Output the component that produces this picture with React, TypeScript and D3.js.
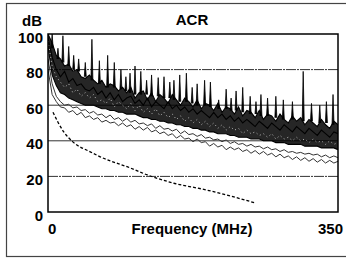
import React from 'react';
import * as d3 from 'd3';

// frequency samples (MHz) for the measured pairs
const freq = [
  0, 5, 10, 15, 20, 25, 30, 35, 40, 45, 50, 55, 60, 65, 70, 75, 80, 85, 90, 95,
  100, 105, 110, 115, 120, 125, 130, 135, 140, 145, 150, 155, 160, 165, 170, 175,
  180, 185, 190, 195, 200, 205, 210, 215, 220, 225, 230, 235, 240, 245, 250, 255,
  260, 265, 270, 275, 280, 285, 290, 295, 300, 305, 310, 315, 320, 325, 330, 335,
  340, 345, 350,
];

const pairA = [
  100, 95, 88, 86, 82, 83, 79, 80, 76, 75,
  77, 74, 72, 74, 70, 72, 71, 68, 70, 67,
  70, 64, 67, 68, 63, 67, 62, 66, 64, 61,
  66, 63, 60, 64, 62, 59, 63, 58, 61, 60,
  57, 61, 56, 59, 58, 55, 59, 54, 57, 56,
  53, 57, 52, 55, 54, 51, 55, 52, 50, 54,
  51, 53, 49, 52, 50, 48, 52, 49, 47, 51, 49,
];
const pairF = [
  98, 87, 80, 76, 79, 73, 75, 71, 72, 69,
  68, 70, 66, 68, 64, 67, 63, 66, 62, 64,
  65, 61, 63, 60, 64, 59, 62, 60, 58, 62,
  58, 60, 57, 59, 56, 58, 55, 57, 55, 53,
  56, 53, 55, 52, 54, 51, 53, 50, 52, 50,
  48, 51, 49, 47, 50, 48, 46, 49, 47, 45,
  48, 46, 44, 47, 45, 43, 46, 44, 42, 45, 44,
];
const pairB = [
  96, 82, 76, 73, 70, 72, 67, 69, 65, 67,
  64, 66, 62, 63, 61, 64, 59, 62, 60, 58,
  61, 57, 60, 56, 58, 55, 58, 54, 56, 53,
  55, 52, 54, 51, 53, 50, 52, 49, 51, 48,
  50, 47, 49, 46, 48, 46, 47, 44, 46, 44,
  45, 43, 44, 42, 44, 41, 43, 41, 42, 40,
  42, 40, 41, 39, 41, 39, 40, 38, 40, 38, 39,
];
const pairC = [
  93, 77, 71, 67, 66, 64, 63, 62, 61, 60,
  60, 60, 59, 58, 58, 57, 57, 56, 56, 55,
  55, 55, 54, 53, 53, 52, 52, 51, 51, 50,
  50, 49, 49, 48, 48, 47, 47, 46, 46, 45,
  45, 44, 44, 44, 43, 43, 42, 42, 42, 41,
  41, 41, 40, 40, 40, 39, 39, 39, 38, 38,
  38, 38, 37, 37, 37, 37, 36, 36, 36, 36, 35,
];
const pairD = [
  80, 66, 62, 59, 58.5, 56, 57, 54.5, 56, 53,
  54, 52, 53, 50.5, 51.5, 50, 50.5, 48.5, 50, 48,
  49, 46.5, 48, 46, 47.5, 45, 46, 44, 45, 43,
  44, 41.5, 43, 41, 41.5, 39.5, 41, 39, 39.5, 37,
  38.5, 36.5, 37.5, 35, 36.5, 35, 36, 34, 35, 33,
  34.5, 32.5, 34, 32, 33, 31, 32.5, 30.5, 31.5, 29.5,
  31, 29, 30.5, 28.5, 30, 28, 29.5, 27.5, 29, 27.5, 28.5,
];
const pairE = [
  86, 72, 65, 62, 60, 60.5, 58.5, 59, 57, 57.5,
  55.5, 56.5, 54.5, 55, 53, 54.5, 52, 53, 51, 52.5,
  50.5, 51.5, 49.5, 50, 48.5, 49.5, 47, 48.5, 46.5, 47,
  45.5, 46.5, 44, 45.5, 43.5, 44, 42.5, 43.5, 41.5, 42,
  40.5, 41, 39.5, 40.5, 38.5, 39.5, 38, 38.5, 37, 38,
  36.5, 37, 35.5, 36.5, 35, 35.5, 34, 35, 33.5, 34,
  33, 33.5, 32.5, 33, 32, 32.5, 31, 32, 30.5, 31.5, 30.5,
];

// narrow resonance peaks
const spikeFreq = [5, 12, 18, 25, 31, 37, 45, 53, 62, 72, 80, 88, 94, 99, 105, 112, 119, 125, 133, 140, 147, 152, 159, 167, 174, 180, 189, 196, 206, 215, 221, 227, 235, 244, 251, 257, 265, 275, 284, 295, 308, 318, 328, 336, 344];
const spikePeak = [100, 92, 99, 93, 88, 86, 84, 97, 85, 88, 84, 80, 76, 78, 82, 79, 74, 77, 75.5, 76, 73, 74, 77, 78, 70, 72, 74, 73, 63, 69, 64, 68, 70, 65, 62, 66, 64, 65, 63, 62, 79, 61, 60, 62, 66];
const spikeBase = [92, 86, 84, 82, 80, 79, 76, 74, 72, 70, 70, 69, 68, 67, 66, 66, 66, 65, 65, 64, 64, 63, 62, 62, 61, 60, 60, 59, 58, 58, 57, 57, 56, 55, 55, 54, 54, 53, 52, 52, 51, 51, 50, 50, 49];

// ACR limit
const limitFreq = [6, 19, 30, 51, 63, 99, 120, 151, 191, 251];
const limitDb = [56, 45, 39.4, 33.8, 31, 24.8, 20.8, 16.3, 12.4, 5];

const yTicks = [0, 20, 40, 60, 80, 100];
const gridTicks = [20, 40, 60, 80];

const W = 346;
const H = 259;
const plot = { left: 48, right: 338, top: 34, bottom: 212 };

const font = '"Liberation Sans", Arial, sans-serif';

export default function App() {
  const x = d3.scaleLinear().domain([0, 350]).range([plot.left, plot.right]);
  const y = d3.scaleLinear().domain([0, 100]).range([plot.bottom, plot.top]);

  const line = d3
    .line<[number, number]>()
    .x((d) => x(d[0]))
    .y((d) => y(d[1]));

  const toPath = (vals: number[]) =>
    line(freq.map((f, i) => [f, vals[i]] as [number, number])) || '';

  const band = d3
    .area<number>()
    .x((d) => x(d))
    .y0((_, i) => y(pairC[i]))
    .y1((_, i) => y(pairA[i]));

  const spikes = spikeFreq.map(
    (f, i) =>
      line([
        [f - 1.2, spikeBase[i]],
        [f, spikePeak[i]],
        [f + 1.2, spikeBase[i]],
      ]) || ''
  );

  const limitLine = d3
    .line<number>()
    .x((d) => x(d))
    .y((_, i) => y(limitDb[i]))
    .curve(d3.curveMonotoneX);

  return (
    <svg
      width={W}
      height={H}
      style={{ position: 'absolute', left: 0, top: 0, background: '#fff' }}
    >
      {/* outer frame */}
      <rect x={6.5} y={3.5} width={345} height={253} fill="none" stroke="#444" strokeWidth={1.2} />

      <defs>
        <clipPath id="plotClip">
          <rect x={plot.left} y={plot.top} width={plot.right - plot.left} height={plot.bottom - plot.top} />
        </clipPath>
      </defs>

      {/* grid */}
      {gridTicks.map((t) => (
        <line
          key={t}
          x1={plot.left}
          x2={plot.right}
          y1={y(t)}
          y2={y(t)}
          stroke="#333"
          strokeWidth={1}
          strokeDasharray={t === 80 || t === 20 ? '10,1,2,1' : undefined}
        />
      ))}

      <g clipPath="url(#plotClip)">
        {[pairE, pairD].map((vals, i) => (
          <path key={'l' + i} d={toPath(vals)} fill="none" stroke="#333" strokeWidth={1} />
        ))}
        <path d={band(freq) || ''} fill="#000" fillOpacity={0.85} stroke="none" />
        {[pairA, pairF, pairC].map((vals, i) => (
          <path key={'s' + i} d={toPath(vals)} fill="none" stroke="#000" strokeWidth={1.1} />
        ))}
        <path d={toPath(pairB)} fill="none" stroke="#fff" strokeWidth={0.7} strokeDasharray="1,3" />
        {spikes.map((d, i) => (
          <path key={'p' + i} d={d} fill="#000" stroke="#000" strokeWidth={0.8} />
        ))}
        <path
          d={limitLine(limitFreq) || ''}
          fill="none"
          stroke="#000"
          strokeWidth={1.3}
          strokeDasharray="3,2"
        />
      </g>

      {/* plot border */}
      <rect
        x={plot.left}
        y={plot.top}
        width={plot.right - plot.left}
        height={plot.bottom - plot.top}
        fill="none"
        stroke="#000"
        strokeWidth={1.5}
      />

      {/* y tick labels */}
      {yTicks.map((t) => (
        <text
          key={t}
          x={43}
          y={y(t) + 3}
          textAnchor="end"
          dominantBaseline="central"
          fontFamily={font}
          fontWeight="bold"
          fontSize={15}
        >
          {t}
        </text>
      ))}

      <text x={32} y={20} textAnchor="middle" dominantBaseline="central" fontFamily={font} fontWeight="bold" fontSize={15}>
        dB
      </text>
      <text x={192} y={19} textAnchor="middle" dominantBaseline="central" fontFamily={font} fontWeight="bold" fontSize={15}>
        ACR
      </text>

      <text x={x(0)} y={234} textAnchor="start" fontFamily={font} fontWeight="bold" fontSize={15}>
        0
      </text>
      <text x={192} y={234} textAnchor="middle" fontFamily={font} fontWeight="bold" fontSize={15}>
        Frequency (MHz)
      </text>
      <text x={x(350) - 20} y={234} textAnchor="start" fontFamily={font} fontWeight="bold" fontSize={15}>
        350
      </text>
    </svg>
  );
}
